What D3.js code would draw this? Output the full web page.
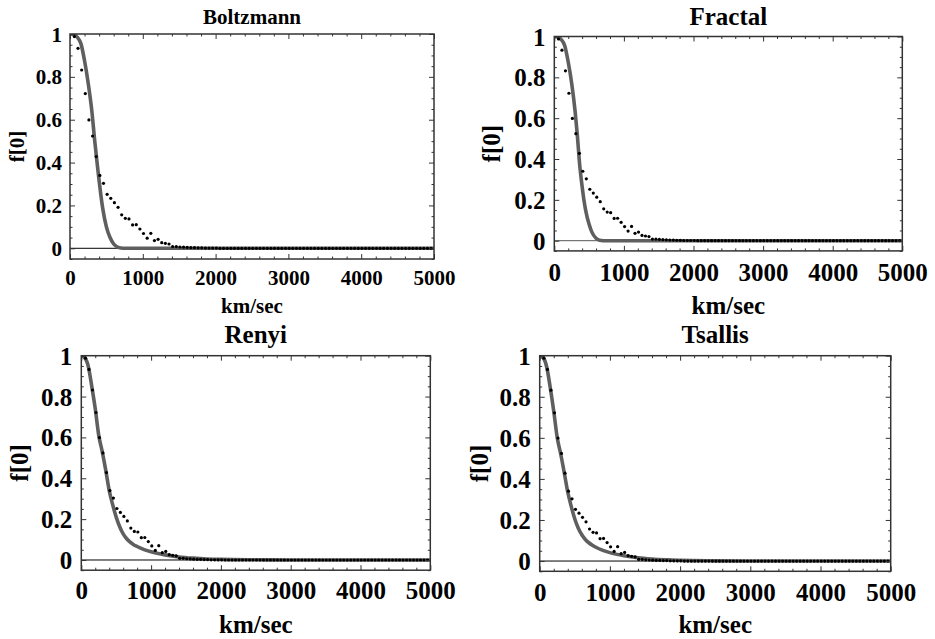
<!DOCTYPE html>
<html>
<head>
<meta charset="utf-8">
<script src="https://cdn.jsdelivr.net/npm/d3@7/dist/d3.min.js"></script>
<style>
  html, body { margin: 0; padding: 0; background: #fff; }
  svg { display: block; }
  text { font-family: "Liberation Serif", "Times New Roman", serif; font-weight: bold; fill: #000; }
</style>
</head>
<body>
<svg id="chart" width="935" height="639"></svg>
<script>
// ---------------- DATA ----------------
const titles = ["Boltzmann", "Fractal", "Renyi", "Tsallis"];
const xAxisTitle = "km/sec";
const yAxisTitle = "f[0]";
const xTicks = [0, 1000, 2000, 3000, 4000, 5000];
const yTicks = [0, 0.2, 0.4, 0.6, 0.8, 1];
const yTickLabels = ["0", "0.2", "0.4", "0.6", "0.8", "1"];

// observed points (km/sec, f)
const speeds = [60,110,160,210,260,310,360,410,460,510,560,610,660,710,760,810,860,910,960,1010,
  1060,1110,1160,1210,1260,1310,1360,1410,1460,1510,1560,1610,1660,1710,1760,1810,1860,1910,1960,2010,
  2060,2110,2160,2210,2260,2310,2360,2410,2460,2510,2560,2610,2660,2710,2760,2810,2860,2910,2960,3010,
  3060,3110,3160,3210,3260,3310,3360,3410,3460,3510,3560,3610,3660,3710,3760,3810,3860,3910,3960,4010,
  4060,4110,4160,4210,4260,4310,4360,4410,4460,4510,4560,4610,4660,4710,4760,4810,4860,4910,4960];
const observed = [0.988,0.933,0.832,0.722,0.599,0.524,0.428,0.340,0.303,0.252,
  0.233,0.213,0.191,0.156,0.140,0.137,0.109,0.110,0.090,0.069,
  0.047,0.070,0.036,0.042,0.026,0.023,0.020,0.008,0.008,0.006,
  0.005,0.004,0.003,0.003,0.002,0.002,0.001,0.001,0.001,0.001,
  0,0,0,0,0,0,0,0,0,0, 0,0,0,0,0,0,0,0,0,0, 0,0,0,0,0,0,0,0,0,0,
  0,0,0,0,0,0,0,0,0,0, 0,0,0,0,0,0,0,0,0,0, 0,0,0,0,0,0,0,0,0];

// fitted curves: [km/sec, f]
const boltzmannFit = [[0,1],[50,0.997],[100,0.985],[150,0.955],[200,0.875],[250,0.77],[300,0.64],[340,0.5],
  [375,0.39],[400,0.315],[425,0.245],[450,0.185],[500,0.1],[550,0.05],[600,0.02],[650,0.006],[700,0.001],[750,0],[5000,0]];
const fractalFit = [[0,1],[50,0.997],[100,0.985],[150,0.955],[200,0.875],[250,0.77],[300,0.63],[330,0.52],
  [365,0.37],[400,0.265],[425,0.2],[450,0.15],[500,0.08],[540,0.042],[600,0.012],[650,0.002],[700,0],[5000,0]];
const renyiFit = [[0,1],[50,0.99],[100,0.948],[150,0.85],[200,0.74],[250,0.61],[300,0.53],[350,0.44],[400,0.34],
  [450,0.27],[500,0.21],[550,0.163],[600,0.128],[650,0.104],[700,0.087],[750,0.075],[800,0.066],[900,0.051],
  [1000,0.04],[1200,0.025],[1400,0.015],[1600,0.009],[1800,0.005],[2000,0.003],[2500,0.001],[3000,0],[5000,0]];
const tsallisFit = [[0,1],[50,0.99],[100,0.945],[150,0.845],[200,0.73],[250,0.6],[300,0.52],[350,0.43],[400,0.335],
  [450,0.265],[500,0.205],[550,0.16],[600,0.128],[650,0.105],[700,0.089],[750,0.077],[800,0.067],[900,0.052],
  [1000,0.041],[1200,0.026],[1400,0.016],[1600,0.01],[1800,0.006],[2000,0.003],[2500,0.001],[3000,0],[5000,0]];
const fits = [boltzmannFit, fractalFit, renyiFit, tsallisFit];

// ---------------- LAYOUT ----------------
const layouts = [
  {left: 70,    right: 434,   top: 34,    bottom: 259,   font: 21, titleBase: 24,    xTickBase: 285,   xLabelBase: 313,   yLabelCx: 17,  yTickRight: 62},
  {left: 554.3, right: 902.3, top: 36.5,  bottom: 250.9, font: 25, titleBase: 25,    xTickBase: 281,   xLabelBase: 314,   yLabelCx: 491, yTickRight: 545.5},
  {left: 81.3,  right: 430.3, top: 355.7, bottom: 570.2, font: 25, titleBase: 343.3, xTickBase: 599.3, xLabelBase: 632.7, yLabelCx: 19,  yTickRight: 72.3},
  {left: 539.7, right: 890.7, top: 355.7, bottom: 571.3, font: 25, titleBase: 343.3, xTickBase: 600.7, xLabelBase: 632.7, yLabelCx: 479, yTickRight: 530.7}
];

const svg = d3.select("#chart");
svg.append("rect").attr("width", 935).attr("height", 639).attr("fill", "#fff");

const frameColor = "#333";

layouts.forEach((L, i) => {
  const x = d3.scaleLinear().domain([0, 5000]).range([L.left, L.right]);
  const y = d3.scaleLinear().domain([-0.05, 1]).range([L.bottom, L.top]);
  const g = svg.append("g");

  const clipId = "clip" + i;
  g.append("clipPath").attr("id", clipId).append("rect")
    .attr("x", L.left).attr("y", L.top).attr("width", L.right - L.left).attr("height", L.bottom - L.top);

  const plot = g.append("g").attr("clip-path", `url(#${clipId})`);

  // zero axis line
  plot.append("line")
    .attr("x1", x(0)).attr("x2", x(5000)).attr("y1", y(0)).attr("y2", y(0))
    .attr("stroke", i === 1 ? "#555" : "#000").attr("stroke-width", 1);

  // fitted curve
  const line = d3.line().x(d => x(d[0])).y(d => y(d[1])).curve(d3.curveMonotoneX);
  plot.append("path").datum(fits[i]).attr("d", line)
    .attr("fill", "none").attr("stroke", "#5f5f5f").attr("stroke-width", 3.6)
    .attr("stroke-linejoin", "round");

  // observed points
  plot.selectAll("circle.obs").data(speeds.map((s, k) => [s, observed[k]]))
    .join("circle").attr("class", "obs")
    .attr("cx", d => x(d[0])).attr("cy", d => y(d[1])).attr("r", 1.6).attr("fill", "#000");

  // ---- frame ticks ----
  const minorX = d3.range(0, 5001, 200).filter(v => v % 1000 !== 0);
  const minorY = d3.range(-0.05, 1.001, 0.05).filter(v => Math.abs(Math.round(v * 5) - v * 5) > 1e-6);

  const styleAxis = sel => {
    sel.select(".domain").remove();
    sel.selectAll(".tick line").attr("stroke", frameColor).attr("stroke-width", 1);
  };

  // bottom major (with labels)
  const bottomAxis = g.append("g").attr("transform", `translate(0,${L.bottom})`)
    .call(d3.axisBottom(x).tickValues(xTicks).tickSize(-5).tickFormat(d3.format("d")));
  styleAxis(bottomAxis);
  bottomAxis.selectAll("text")
    .attr("y", L.xTickBase - L.bottom).attr("dy", 0)
    .style("font-size", L.font + "px").style("font-family", "'Liberation Serif', serif")
    .style("font-weight", "bold").attr("fill", "#000");
  // bottom minor
  styleAxis(g.append("g").attr("transform", `translate(0,${L.bottom})`)
    .call(d3.axisBottom(x).tickValues(minorX).tickSize(-2.5).tickFormat("")));
  // top
  styleAxis(g.append("g").attr("transform", `translate(0,${L.top})`)
    .call(d3.axisTop(x).tickValues(xTicks).tickSize(-5).tickFormat("")));
  styleAxis(g.append("g").attr("transform", `translate(0,${L.top})`)
    .call(d3.axisTop(x).tickValues(minorX).tickSize(-2.5).tickFormat("")));

  // left major with labels
  const leftAxis = g.append("g").attr("transform", `translate(${L.left},0)`)
    .call(d3.axisLeft(y).tickValues(yTicks).tickSize(-5).tickFormat((d, k) => yTickLabels[k]));
  styleAxis(leftAxis);
  leftAxis.selectAll("text")
    .attr("x", L.yTickRight - L.left).attr("dy", "0.34em")
    .attr("text-anchor", "end")
    .style("font-size", L.font + "px").style("font-family", "'Liberation Serif', serif")
    .style("font-weight", "bold").attr("fill", "#000");
  styleAxis(g.append("g").attr("transform", `translate(${L.left},0)`)
    .call(d3.axisLeft(y).tickValues(minorY).tickSize(-2.5).tickFormat("")));
  // right
  styleAxis(g.append("g").attr("transform", `translate(${L.right},0)`)
    .call(d3.axisRight(y).tickValues(yTicks).tickSize(-5).tickFormat("")));
  styleAxis(g.append("g").attr("transform", `translate(${L.right},0)`)
    .call(d3.axisRight(y).tickValues(minorY).tickSize(-2.5).tickFormat("")));

  // frame
  g.append("rect")
    .attr("x", L.left).attr("y", L.top).attr("width", L.right - L.left).attr("height", L.bottom - L.top)
    .attr("fill", "none").attr("stroke", frameColor).attr("stroke-width", 1.5);

  // title
  g.append("text").attr("x", (L.left + L.right) / 2).attr("y", L.titleBase)
    .attr("text-anchor", "middle").style("font-size", L.font + "px").text(titles[i]);

  // x axis title
  g.append("text").attr("x", (L.left + L.right) / 2).attr("y", L.xLabelBase)
    .attr("text-anchor", "middle").style("font-size", L.font + "px").text(xAxisTitle);

  // y axis title
  const cy = (L.top + L.bottom) / 2;
  g.append("text")
    .attr("transform", `translate(${L.yLabelCx},${cy}) rotate(-90)`)
    .attr("text-anchor", "middle").attr("dy", "0.34em")
    .style("font-size", L.font + "px").text(yAxisTitle);
});
</script>
</body>
</html>
